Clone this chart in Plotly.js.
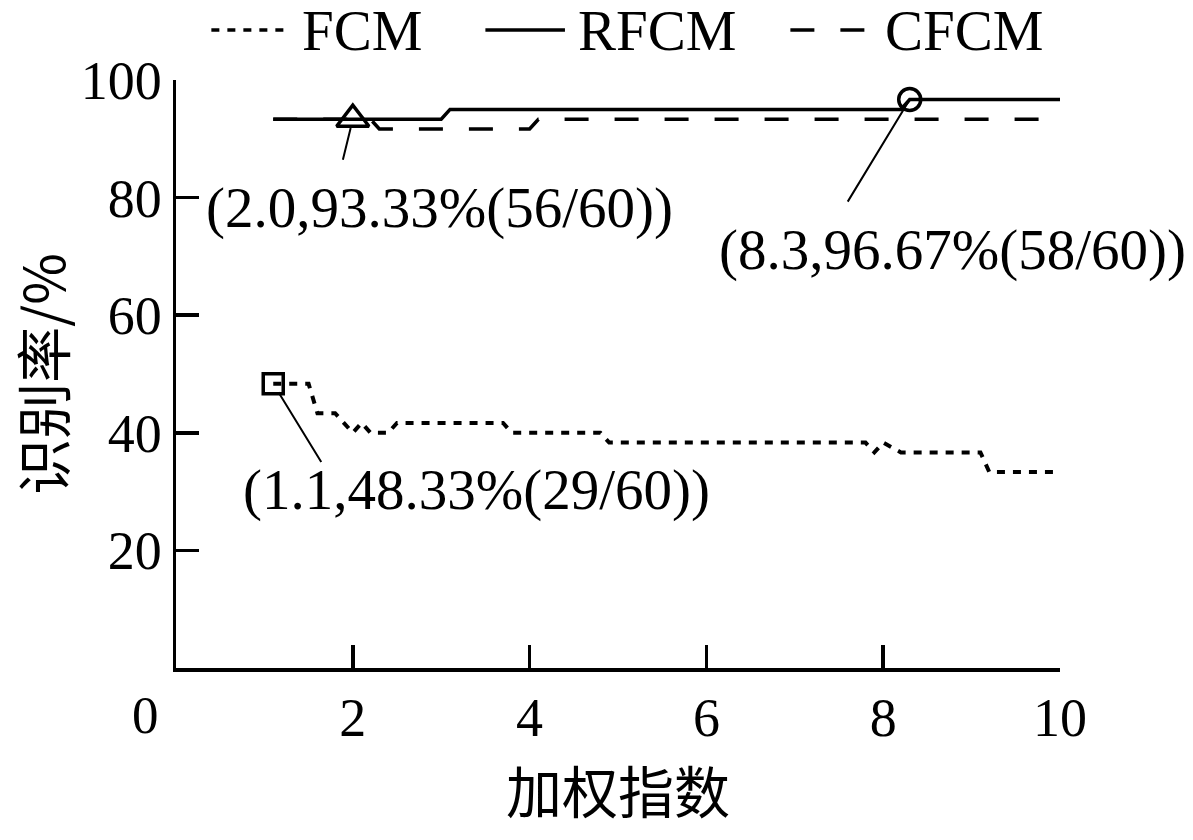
<!DOCTYPE html>
<html>
<head>
<meta charset="utf-8">
<script src="https://cdn.plot.ly/plotly-3.0.1.min.js"></script>
<style>
  html, body { margin: 0; padding: 0; background: #fff; }
  #plot { width: 1193px; height: 840px; }
</style>
</head>
<body>
<div id="plot"></div>
<script>
// recognition rate (%) against the weighting exponent m
var fcmX = [1.1, 1.5, 1.6, 1.8, 2.0, 2.1, 2.2, 2.4, 2.5, 3.7, 3.8, 4.8, 4.9, 7.8, 7.9, 8.0, 8.2, 9.1, 9.2, 10];
var fcmY = [48.33, 48.33, 43.33, 43.33, 40, 41.67, 40, 40, 41.67, 41.67, 40, 40, 38.33, 38.33, 36.67, 38.33, 36.67, 36.67, 33.33, 33.33];

var rfcmX = [1.1, 3.0, 3.1, 8.2, 8.3, 10];
var rfcmY = [93.33, 93.33, 95, 95, 96.67, 96.67];

var cfcmX = [1.1, 2.2, 2.3, 4.0, 4.1, 10];
var cfcmY = [93.33, 93.33, 91.67, 91.67, 93.33, 93.33];

// best points that get a marker and a label
var bestX = [2.0, 8.3, 1.1];
var bestY = [93.33, 96.67, 48.33];
var bestText = ['(2.0,93.33%(56/60))', '(8.3,96.67%(58/60))', '(1.1,48.33%(29/60))'];
var bestSymbol = ['triangle-up-open', 'circle-open', 'square-open'];

var names = ['FCM', 'RFCM', 'CFCM'];
var dashes = ['8px,8px', 'solid', '24px,26px'];

var xTicks = [2, 4, 6, 8, 10];
var yTicks = [20, 40, 60, 80, 100];

var serif = '"Liberation Serif", "Times New Roman", "Noto Sans CJK SC", serif';
var cjk = '"Noto Sans CJK SC", "Liberation Serif", serif';

var traces = [
  {
    x: fcmX, y: fcmY, name: names[0], type: 'scatter', mode: 'lines',
    line: { color: '#000', width: 4, dash: dashes[0] }
  },
  {
    x: rfcmX, y: rfcmY, name: names[1], type: 'scatter', mode: 'lines',
    line: { color: '#000', width: 3.5, dash: dashes[1] }
  },
  {
    x: cfcmX, y: cfcmY, name: names[2], type: 'scatter', mode: 'lines',
    line: { color: '#000', width: 3.5, dash: dashes[2] }
  },
  {
    x: bestX, y: bestY, type: 'scatter', mode: 'markers', showlegend: false,
    marker: { symbol: bestSymbol, size: [28, 22, 20], color: '#000', opacity: 1,
              line: { color: '#000', width: 3.5 } }
  }
];

// leader lines: offsets of the free end from each marked point, in px
var leadAx = [-12, -65, 51];
var leadAy = [49, 107, 83];
var leadStand = [9, 0, 10];
// label centres, in data units
var labelX = [2.98, 8.78, 3.40];
var labelY = [78.2, 71.1, 30.3];

var annotations = [];
for (var i = 0; i < bestX.length; i++) {
  annotations.push({
    x: bestX[i], y: bestY[i], xref: 'x', yref: 'y', text: ' ',
    showarrow: true, arrowhead: 0, arrowwidth: 2, arrowcolor: '#000',
    ax: leadAx[i], ay: leadAy[i], standoff: leadStand[i]
  });
  annotations.push({
    x: labelX[i], y: labelY[i], xref: 'x', yref: 'y', text: bestText[i],
    showarrow: false, xanchor: 'center', yanchor: 'middle',
    font: { family: serif, size: 57, color: '#000' }
  });
}
// the 0 of the x axis sits left of the corner
annotations.push({
  x: 0, y: 0, xref: 'x', yref: 'y', text: '0', showarrow: false,
  xanchor: 'center', yanchor: 'top', xshift: -31, yshift: -16,
  font: { family: serif, size: 53, color: '#000' }
});

// legend drawn above the plot: sample line then name, in paper units
var legSampleX0 = [0.040, 0.350, 0.695];
var legSampleX1 = [0.128, 0.440, 0.785];
var legTextX = [0.140, 0.452, 0.800];
var legY = 1.085;
var shapes = [];
for (var k = 0; k < names.length; k++) {
  shapes.push({
    type: 'line', xref: 'paper', yref: 'paper',
    x0: legSampleX0[k], x1: legSampleX1[k], y0: legY, y1: legY,
    line: { color: '#000', width: 3.5, dash: dashes[k] }
  });
  annotations.push({
    x: legTextX[k], y: legY, xref: 'paper', yref: 'paper', text: names[k],
    showarrow: false, xanchor: 'left', yanchor: 'middle',
    font: { family: serif, size: 57, color: '#000' }
  });
}

var layout = {
  width: 1193,
  height: 840,
  margin: { l: 176, r: 133, t: 80, b: 172, autoexpand: false },
  paper_bgcolor: '#fff',
  plot_bgcolor: '#fff',
  font: { family: serif, color: '#000' },
  showlegend: false,
  xaxis: {
    range: [0, 10],
    tickvals: xTicks,
    ticks: 'inside', ticklen: 23, tickwidth: 3.5, tickcolor: '#000',
    showline: true, linewidth: 3.5, linecolor: '#000',
    showgrid: false, zeroline: false,
    tickfont: { family: serif, size: 54, color: '#000' },
    title: { text: '加权指数', font: { family: cjk, size: 56, color: '#000' }, standoff: 20 }
  },
  yaxis: {
    range: [0, 100],
    tickvals: yTicks,
    ticks: 'inside', ticklen: 23, tickwidth: 3.5, tickcolor: '#000',
    showline: true, linewidth: 3.5, linecolor: '#000',
    showgrid: false, zeroline: false, automargin: true,
    tickfont: { family: serif, size: 54, color: '#000' },
    title: { text: '识别率/%', font: { family: cjk, size: 56, color: '#000' }, standoff: 32 }
  },
  shapes: shapes,
  annotations: annotations
};

Plotly.newPlot('plot', traces, layout, { displayModeBar: false, staticPlot: true });
</script>
</body>
</html>
